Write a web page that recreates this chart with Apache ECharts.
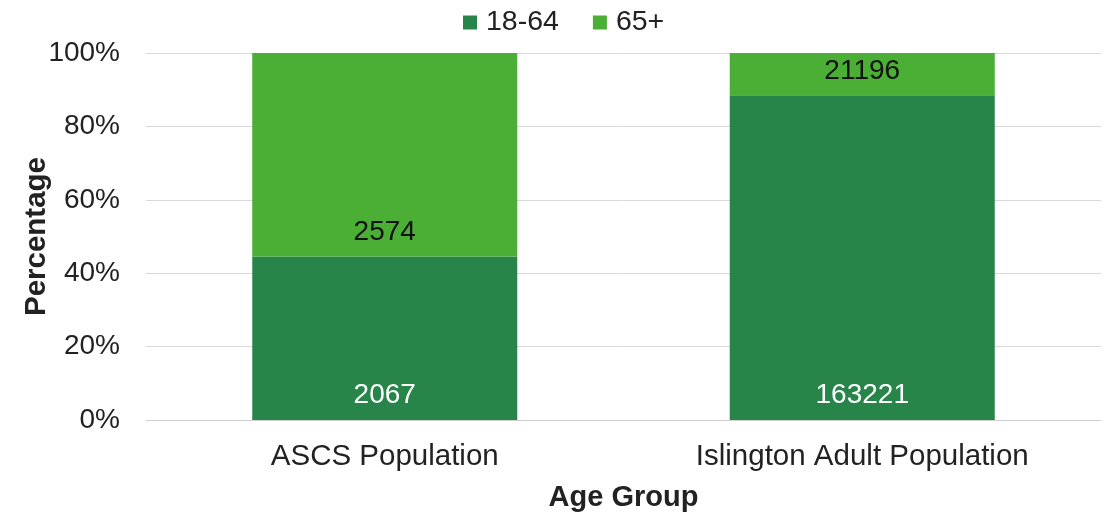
<!DOCTYPE html>
<html><head><meta charset="utf-8">
<script src="https://cdn.jsdelivr.net/npm/echarts@6/dist/echarts.min.js"></script>
<style>html,body{margin:0;padding:0;background:#fff}#c{width:1109px;height:512px}</style>
</head><body><div id="c"></div>
<script>
const categories = ["ASCS Population", "Islington Adult Population"];
const seriesNames = ["18-64", "65+"];
const counts18to64 = [2067, 163221];
const counts65plus = [2574, 21196];
const yTicks = ["0%", "20%", "40%", "60%", "80%", "100%"];

const totals = categories.map((_, i) => counts18to64[i] + counts65plus[i]);
const pct = arr => arr.map((v, i) => ({ value: v / totals[i] * 100, count: v }));

const font = "'Liberation Sans', Arial, sans-serif";
const fs = 28;
const chart = echarts.init(document.getElementById('c'), null, { renderer: 'canvas' });
chart.setOption({
  animation: false,
  textStyle: { fontFamily: font },
  legend: {
    top: 3, left: 458, itemWidth: 14, itemHeight: 14, itemGap: 34,
    icon: 'rect',
    textStyle: { fontSize: 28.5, color: '#222', fontFamily: font, padding: [0, 0, 0, 4] },
    data: seriesNames
  },
  grid: { left: 146, right: 8, top: 53, bottom: 92, containLabel: false, outerBoundsMode: 'none' },
  xAxis: {
    type: 'category', data: categories,
    axisLine: { show: true, lineStyle: { color: '#d0d0d0' } },
    axisTick: { show: false },
    axisLabel: { fontSize: 29.5, color: '#222', margin: 22, fontFamily: font },
    name: 'Age Group', nameLocation: 'middle', nameGap: 63, nameMoveOverlap: false,
    nameTextStyle: { fontSize: 29, fontWeight: 'bold', color: '#222', fontFamily: font }
  },
  yAxis: {
    type: 'value', min: 0, max: 100, interval: 20,
    axisLine: { show: false }, axisTick: { show: false },
    splitLine: { lineStyle: { color: '#d9d9d9' } },
    axisLabel: { fontSize: fs, color: '#222', margin: 26, fontFamily: font,
      formatter: v => yTicks[Math.round(v / 20)] },
    name: 'Percentage', nameLocation: 'middle', nameGap: 94, nameMoveOverlap: false,
    nameTextStyle: { fontSize: 29.5, fontWeight: 'bold', color: '#222', fontFamily: font }
  },
  series: [
    {
      name: seriesNames[0], type: 'bar', stack: 'a', barWidth: '55.5%',
      itemStyle: { color: '#28854A' },
      label: { show: true, position: 'insideBottom', distance: 11, fontSize: fs, color: '#fff',
        fontFamily: font, formatter: p => p.data.count },
      data: pct(counts18to64)
    },
    {
      name: seriesNames[1], type: 'bar', stack: 'a',
      itemStyle: { color: '#4BAE35' },
      label: { show: true, position: 'insideBottom', distance: 10, fontSize: fs, color: '#111',
        fontFamily: font, formatter: p => p.data.count },
      data: pct(counts65plus)
    }
  ]
});
</script></body></html>
